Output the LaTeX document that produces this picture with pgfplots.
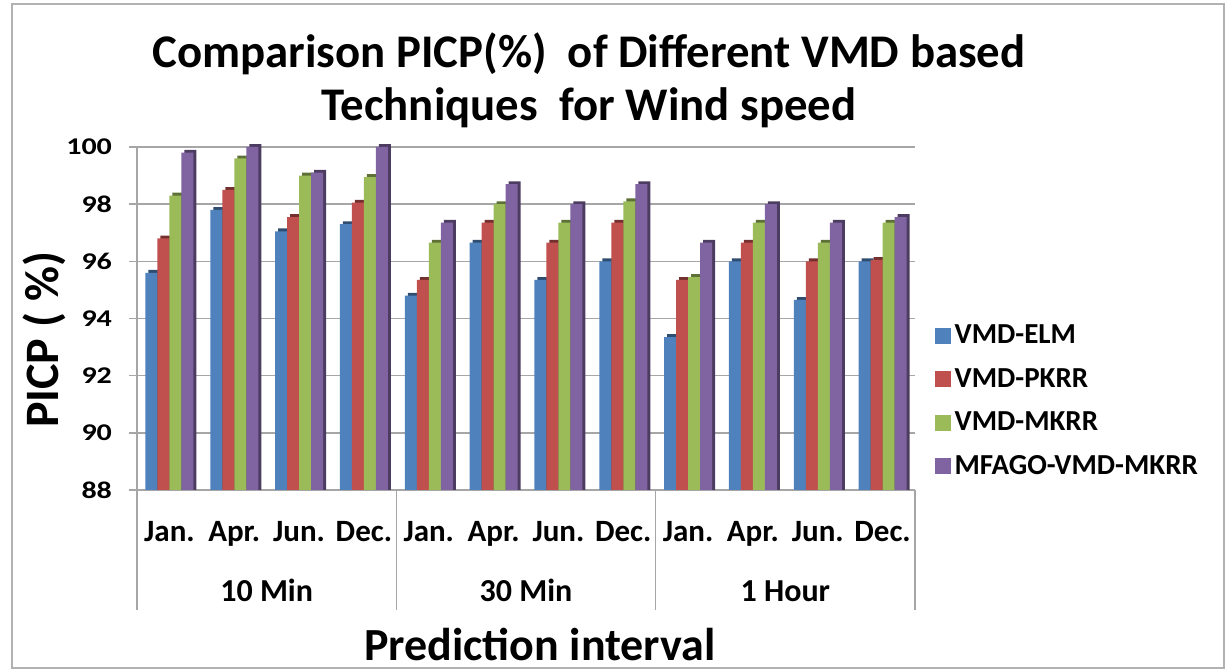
\documentclass[border=0pt]{standalone}
\usepackage{fontspec}
\setmainfont{Carlito}
\usepackage{pgfplots}
\usepackage{pgfplotstable}
\pgfplotsset{compat=1.18}
\definecolor{cBlue}{HTML}{4F81BD}
\definecolor{cRed}{HTML}{C0504D}
\definecolor{cGreen}{HTML}{9BBB59}
\definecolor{cPurple}{HTML}{8064A2}
\pgfplotsset{sq legend/.style={legend image code/.code={\fill[##1] (0pt,-4pt) rectangle (8pt,4pt);}}}
\pgfplotstableread{
x elm pkrr mkrr mfago
0 95.6 96.8 98.3 99.8
1 97.8 98.5 99.6 100.0
2 97.05 97.55 99.0 99.1
3 97.3 98.05 98.95 100.0
4 94.8 95.35 96.65 97.35
5 96.65 97.35 98.0 98.7
6 95.35 96.65 97.35 98.0
7 96.0 97.35 98.1 98.7
8 93.35 95.35 95.45 96.65
9 96.0 96.65 97.35 98.0
10 94.65 96.0 96.65 97.35
11 96.0 96.05 97.35 97.55
}\data
\begin{document}
\begin{tikzpicture}[x=0.5pt,y=0.5pt]
\path[use as bounding box] (0,0) rectangle (1230,672);
\draw[gray!60, line width=0.8pt] (12,4) rectangle (1224,668);
\node[align=center, font=\fontsize{23.4}{26.5}\selectfont\bfseries] at (589,592) {Comparison PICP(\%)\ \ of Different VMD based\\Techniques\ \ for Wind speed};
\node[rotate=90, font=\fontsize{24}{24}\selectfont\bfseries] at (44,332) {PICP ( \%)};
\node[anchor=base, font=\fontsize{23}{23}\selectfont\bfseries] at (540,11) {Prediction interval};
\begin{axis}[at={(68.5pt,91pt)}, anchor=south west, scale only axis,
  width=389pt, height=171.5pt,
  ybar, bar width=6pt,
  ymin=88, ymax=100, xmin=-0.5, xmax=11.5,
  ytick={88,90,...,100},
  xtick=data,
  xticklabels={Jan.,Apr.,Jun.,Dec.,Jan.,Apr.,Jun.,Dec.,Jan.,Apr.,Jun.,Dec.},
  xticklabel style={anchor=base, yshift=-22pt, font=\fontsize{15.5}{15.5}\selectfont\bfseries},
  yticklabel style={font=\fontsize{15}{15}\selectfont\bfseries, yscale=0.8, xshift=-5pt},
  /pgf/number format/assume math mode=true,
  axis x line*=bottom, axis y line*=left,
  axis line style={gray!70, line width=0.8pt},
  ymajorgrids, grid style={gray!70, line width=0.8pt},
  xtick style={draw=none},
  ytick style={gray!70, line width=0.8pt},
  major tick length=4pt, tick align=outside,
  clip=false,
  legend style={at={(1.017,0.505)}, anchor=north west, draw=none, fill=none,
    font=\fontsize{14.5}{14.5}\selectfont\bfseries, row sep=6.8pt},
  legend cell align=left,
]
\addplot[fill=cBlue!60!black, draw=none, bar shift=-7.5pt, forget plot] table[x=x, y expr=\thisrow{elm}+0.1] {\data};
\addplot[fill=cBlue, draw=none, bar shift=-9pt, sq legend] table[x=x, y=elm] {\data};
\addplot[fill=cRed!60!black, draw=none, bar shift=-1.5pt, forget plot] table[x=x, y expr=\thisrow{pkrr}+0.1] {\data};
\addplot[fill=cRed, draw=none, bar shift=-3pt, sq legend] table[x=x, y=pkrr] {\data};
\addplot[fill=cGreen!60!black, draw=none, bar shift=4.5pt, forget plot] table[x=x, y expr=\thisrow{mkrr}+0.1] {\data};
\addplot[fill=cGreen, draw=none, bar shift=3pt, sq legend] table[x=x, y=mkrr] {\data};
\addplot[fill=cPurple!60!black, draw=none, bar shift=10.5pt, forget plot] table[x=x, y expr=\thisrow{mfago}+0.1] {\data};
\addplot[fill=cPurple, draw=none, bar shift=9pt, sq legend] table[x=x, y=mfago] {\data};
\legend{VMD-ELM,VMD-PKRR,VMD-MKRR,MFAGO-VMD-MKRR}
\draw[gray!70, line width=0.8pt] (axis cs:-0.5,88) -- ++(0pt,-60pt);
\draw[gray!70, line width=0.8pt] (axis cs:3.5,88) -- ++(0pt,-60pt);
\draw[gray!70, line width=0.8pt] (axis cs:7.5,88) -- ++(0pt,-60pt);
\draw[gray!70, line width=0.8pt] (axis cs:11.5,88) -- ++(0pt,-60pt);
\node[anchor=base, font=\fontsize{16}{16}\selectfont\bfseries] at (axis cs:1.5,88) [yshift=-56pt] {10 Min};
\node[anchor=base, font=\fontsize{16}{16}\selectfont\bfseries] at (axis cs:5.5,88) [yshift=-56pt] {30 Min};
\node[anchor=base, font=\fontsize{16}{16}\selectfont\bfseries] at (axis cs:9.5,88) [yshift=-56pt] {1 Hour};
\end{axis}
\end{tikzpicture}
\end{document}
